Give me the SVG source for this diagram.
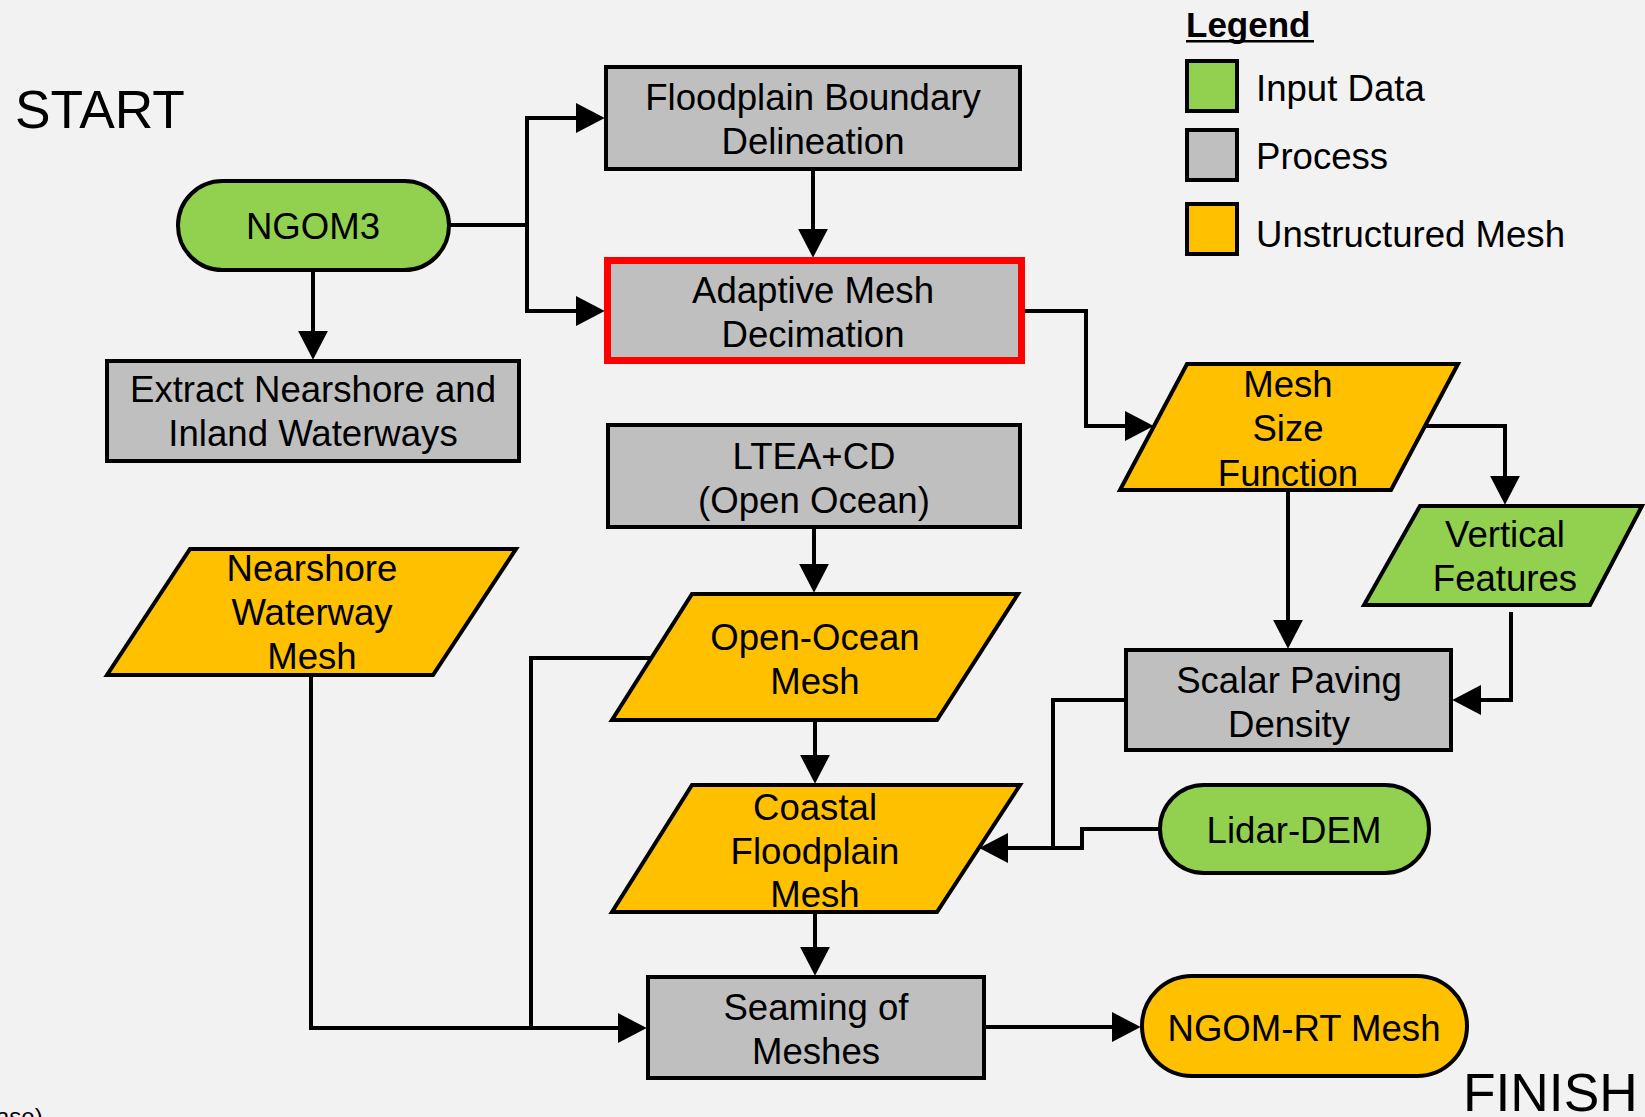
<svg xmlns="http://www.w3.org/2000/svg" width="1645" height="1117" viewBox="0 0 1645 1117">
<defs>
<marker id="arr" markerUnits="userSpaceOnUse" markerWidth="30" markerHeight="30" viewBox="0 0 28 28" refX="17" refY="14" orient="auto">
<path d="M0,0 L27,14 L0,28 z" fill="#000"/>
</marker>
<style>
.bg{fill:#f2f2f2}
.green{fill:#92d050;stroke:#000;stroke-width:4}
.gray{fill:#bfbfbf;stroke:#000;stroke-width:4}
.yellow{fill:#ffc000;stroke:#000;stroke-width:4}
.red{fill:#bfbfbf;stroke:#ff0000;stroke-width:7}
text{font-family:"Liberation Sans",Arial,Helvetica,sans-serif;fill:#000}
.t{font-size:36.6px;text-anchor:middle}
.l{font-size:36.6px}
.big{font-size:53.3px}
.conn path{fill:none;stroke:#000;stroke-width:4;stroke-linejoin:miter}
.arrow{marker-end:url(#arr)}
</style>
</defs>
<rect class="bg" x="0" y="0" width="1645" height="1117"/>

<text class="big" x="15" y="128">START</text>
<text class="big" x="1463" y="1111">FINISH</text>
<text style="font-size:24px" x="-4" y="1125">ase)</text>

<g id="legend">
<text x="1186" y="37" style="font-size:35px;font-weight:bold">Legend</text>
<rect x="1186" y="40" width="128" height="2.5" fill="#000"/>
<rect class="green" x="1187" y="61" width="50" height="50"/>
<rect class="gray" x="1187" y="130" width="50" height="50"/>
<rect class="yellow" x="1187" y="204" width="50" height="50"/>
<text class="l" x="1256" y="101">Input Data</text>
<text class="l" x="1256" y="169">Process</text>
<text class="l" x="1256" y="247">Unstructured Mesh</text>
</g>

<g class="conn" id="connectors">
<path class="arrow" d="M449,225 H527 V118 H594"/>
<path class="arrow" d="M527,225 V311 H594"/>
<path class="arrow" d="M313,272 V349"/>
<path class="arrow" d="M813,171 V247"/>
<path class="arrow" d="M1025,311 H1086 V426 H1143"/>
<path class="arrow" d="M1426,426 H1505 V494"/>
<path class="arrow" d="M1288,492 V638"/>
<path class="arrow" d="M1511,612 V700 H1463"/>
<path class="arrow" d="M1124,700 H1053 V848 H990"/>
<path d="M1158,829 H1082 V848 H1053"/>
<path class="arrow" d="M814,529 V582"/>
<path class="arrow" d="M815,722 V773"/>
<path class="arrow" d="M815,914 V965"/>
<path class="arrow" d="M311,677 V1028 H636"/>
<path d="M650,658 H531 V1028"/>
<path class="arrow" d="M986,1027 H1130"/>
</g>

<g id="ngom3">
<rect class="green" x="178" y="181" width="271" height="89" rx="44.5"/>
<text class="t" x="313" y="239">NGOM3</text>
</g>

<g id="floodplain">
<rect class="gray" x="606" y="67" width="414" height="102"/>
<text class="t" x="813" y="110">Floodplain Boundary</text>
<text class="t" x="813" y="154">Delineation</text>
</g>

<g id="adaptive">
<rect class="red" x="607.5" y="260.5" width="414" height="100"/>
<text class="t" x="813" y="303">Adaptive Mesh</text>
<text class="t" x="813" y="347">Decimation</text>
</g>

<g id="extract">
<rect class="gray" x="107" y="361" width="412" height="100"/>
<text class="t" x="313" y="402">Extract Nearshore and</text>
<text class="t" x="313" y="446">Inland Waterways</text>
</g>

<g id="ltea">
<rect class="gray" x="608" y="425" width="412" height="102"/>
<text class="t" x="814" y="469">LTEA+CD</text>
<text class="t" x="814" y="513">(Open Ocean)</text>
</g>

<g id="nearshore">
<polygon class="yellow" points="190,549 516,549 433,675 107,675"/>
<text class="t" x="312" y="581">Nearshore</text>
<text class="t" x="312" y="625">Waterway</text>
<text class="t" x="312" y="669">Mesh</text>
</g>

<g id="openocean">
<polygon class="yellow" points="692,594 1018,594 937,720 612,720"/>
<text class="t" x="815" y="650">Open-Ocean</text>
<text class="t" x="815" y="694">Mesh</text>
</g>

<g id="coastal">
<polygon class="yellow" points="692,785 1020,785 937,912 612,912"/>
<text class="t" x="815" y="820">Coastal</text>
<text class="t" x="815" y="864">Floodplain</text>
<text class="t" x="815" y="907">Mesh</text>
</g>

<g id="seaming">
<rect class="gray" x="648" y="977" width="336" height="101"/>
<text class="t" x="816" y="1020">Seaming of</text>
<text class="t" x="816" y="1064">Meshes</text>
</g>

<g id="ngomrt">
<rect class="yellow" x="1142" y="976" width="325" height="100" rx="50"/>
<text class="t" x="1304" y="1041">NGOM-RT Mesh</text>
</g>

<g id="meshsize">
<polygon class="yellow" points="1187,364 1458,364 1391,490 1120,490"/>
<text class="t" x="1288" y="397">Mesh</text>
<text class="t" x="1288" y="441">Size</text>
<text class="t" x="1288" y="486">Function</text>
</g>

<g id="vertical">
<polygon class="green" points="1420,506 1642,506 1590,605 1364,605"/>
<text class="t" x="1505" y="547">Vertical</text>
<text class="t" x="1505" y="591">Features</text>
</g>

<g id="scalar">
<rect class="gray" x="1126" y="650" width="325" height="100"/>
<text class="t" x="1289" y="693">Scalar Paving</text>
<text class="t" x="1289" y="737">Density</text>
</g>

<g id="lidar">
<rect class="green" x="1160" y="785" width="269" height="88" rx="44"/>
<text class="t" x="1294" y="843">Lidar-DEM</text>
</g>
</svg>
